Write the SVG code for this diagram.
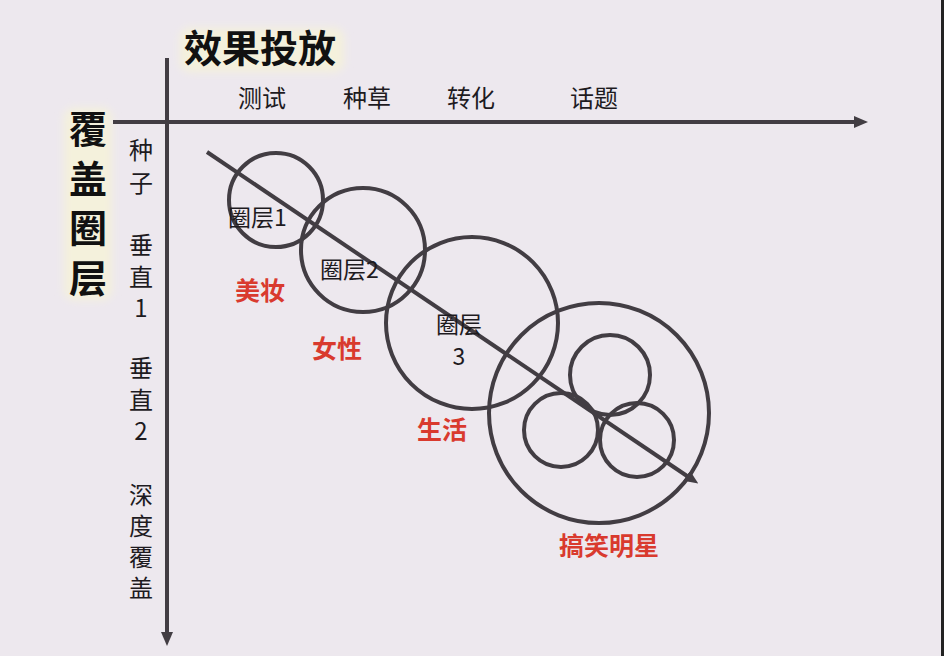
<svg xmlns="http://www.w3.org/2000/svg" width="944" height="656" viewBox="0 0 944 656">
<defs>
<style>
.ax{stroke:#423d43;stroke-width:4;fill:none}
.ci{stroke:#423d43;stroke-width:4;fill:none}
.t{font-family:"Noto Sans CJK SC","Noto Sans",sans-serif;fill:#1e1b1f}
.big{font-size:38px;font-weight:bold;fill:#111}
.ax-l{font-size:24px}
.vt{writing-mode:vertical-rl;text-orientation:upright}
.cl{font-size:23px}
.red{font-size:25px;font-weight:bold;fill:#d93a2e}
</style>
<filter id="soft" x="-20%" y="-20%" width="140%" height="140%">
<feGaussianBlur stdDeviation="4"/>
</filter>
<marker id="ah" viewBox="0 0 14 12" refX="4" refY="6" markerWidth="14" markerHeight="12" markerUnits="userSpaceOnUse" orient="auto">
<path d="M0,0 L14,6 L0,12 z" fill="#423d43"/>
</marker>
</defs>
<rect width="944" height="656" fill="#ede8ee"/>
<rect x="941" y="0" width="3" height="656" fill="#222"/>
<rect x="180" y="28" width="164" height="44" rx="10" fill="#f4f1dc" filter="url(#soft)"/>
<rect x="64" y="108" width="48" height="192" rx="10" fill="#f4f1dc" filter="url(#soft)"/>

<g id="connectors">
<line class="ax" x1="113" y1="122" x2="858" y2="122" marker-end="url(#ah)"/>
<line class="ax" x1="167" y1="58" x2="167" y2="636" marker-end="url(#ah)"/>
<line class="ax" x1="207" y1="152" x2="690" y2="478" marker-end="url(#ah)"/>
</g>

<g id="title">
<text class="t big" x="184" y="62">效果投放</text>
</g>
<g id="y-title">
<text class="t big vt" x="88" y="110" letter-spacing="11.5">覆盖圈层</text>
</g>

<g id="x-labels" class="t ax-l">
<text x="238" y="107">测试</text>
<text x="343" y="107">种草</text>
<text x="447" y="107">转化</text>
<text x="570" y="107">话题</text>
</g>

<g id="y-labels" class="t ax-l vt">
<text x="141" y="138" letter-spacing="8.5">种子</text>
<text x="141" y="233" letter-spacing="7.5">垂直1</text>
<text x="141" y="356" letter-spacing="7.5">垂直2</text>
<text x="141" y="483" letter-spacing="7">深度覆盖</text>
</g>

<g id="layer1">
<circle class="ci" cx="276" cy="200" r="47"/>
<text class="t cl" x="228" y="226">圈层1</text>
</g>
<g id="layer2">
<circle class="ci" cx="363" cy="250" r="62"/>
<text class="t cl" x="320" y="278">圈层2</text>
</g>
<g id="layer3">
<circle class="ci" cx="472" cy="323" r="86"/>
<text class="t cl" x="459" y="333" text-anchor="middle">圈层</text>
<text class="t cl" x="459" y="365" text-anchor="middle">3</text>
</g>
<g id="layer4">
<circle class="ci" cx="599" cy="413" r="110"/>
<circle class="ci" cx="610" cy="375" r="40"/>
<circle class="ci" cx="561" cy="430" r="37"/>
<circle class="ci" cx="637" cy="440" r="37"/>
</g>

<g id="red-labels" class="t red">
<text x="235" y="300">美妆</text>
<text x="312" y="358">女性</text>
<text x="417" y="439">生活</text>
<text x="559" y="555">搞笑明星</text>
</g>
</svg>
